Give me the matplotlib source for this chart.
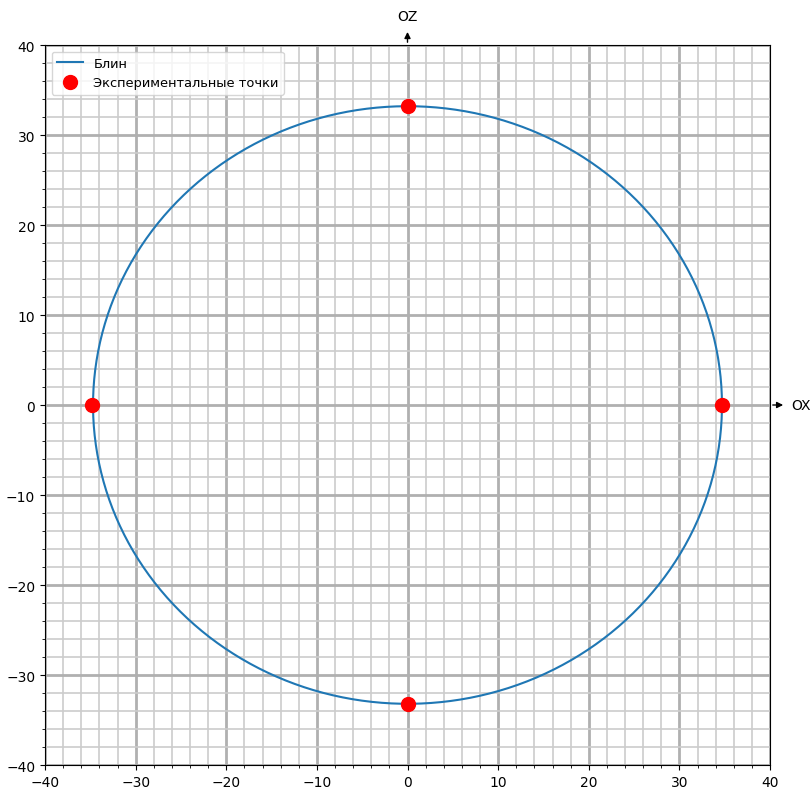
import numpy as np
import matplotlib.pyplot as plt
from matplotlib.ticker import MultipleLocator

# semi-axes of the fitted ellipse
a_x = 34.7
b_z = 33.2
# experimental points
exp_x = [34.7, -34.8, 0.0, 0.0]
exp_z = [0.0, 0.0, 33.2, -33.2]

t = np.linspace(0, 2 * np.pi, 400)
fig = plt.figure(figsize=(8.11, 8.03), dpi=100)
ax = fig.add_axes([45 / 811, 1 - 766 / 803, 725 / 811, 720 / 803])

ax.plot(a_x * np.cos(t), b_z * np.sin(t), label='Блин')
ax.plot(exp_x, exp_z, 'o', color='red', markersize=10, linestyle='none',
        label='Экспериментальные точки')

ax.set_xlim(-40, 40)
ax.set_ylim(-40, 40)
ax.xaxis.set_major_locator(MultipleLocator(10))
ax.yaxis.set_major_locator(MultipleLocator(10))
ax.xaxis.set_minor_locator(MultipleLocator(2))
ax.yaxis.set_minor_locator(MultipleLocator(2))
ax.grid(which='major', color='#b0b0b0', linewidth=2)
ax.grid(which='minor', color='#cccccc', linewidth=1.2)
ax.set_axisbelow(True)

# axis arrows
ax.annotate('', xy=(1.022, 0.5), xytext=(1.0, 0.5), xycoords='axes fraction',
            arrowprops=dict(arrowstyle='-|>', color='black', lw=1, mutation_scale=9),
            annotation_clip=False)
ax.text(1.030, 0.5, 'OX', transform=ax.transAxes, va='center', ha='left')
ax.annotate('', xy=(0.5, 1.022), xytext=(0.5, 1.0), xycoords='axes fraction',
            arrowprops=dict(arrowstyle='-|>', color='black', lw=1, mutation_scale=9),
            annotation_clip=False)
ax.text(0.5, 1.040, 'OZ', transform=ax.transAxes, va='center', ha='center')

ax.legend(loc='upper left', fontsize=9.4)
fig.savefig('out.png', dpi=100)
